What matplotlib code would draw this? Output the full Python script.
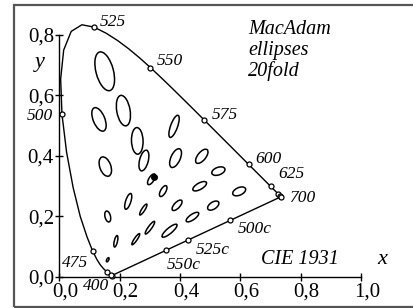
import numpy as np
import matplotlib
matplotlib.use('Agg')
import matplotlib.pyplot as plt
from matplotlib.patches import Ellipse, Rectangle
from matplotlib.transforms import ScaledTranslation

# CIE 1931 spectral locus, 380..700 nm in 5 nm steps
wavelengths = list(range(380, 705, 5))
locus_x = [0.1741, 0.1740, 0.1738, 0.1736, 0.1733, 0.1730, 0.1726, 0.1721, 0.1714, 0.1703,
           0.1689, 0.1669, 0.1644, 0.1611, 0.1566, 0.1510, 0.1440, 0.1355, 0.1241, 0.1096,
           0.0913, 0.0687, 0.0454, 0.0235, 0.0082, 0.0039, 0.0139, 0.0389, 0.0743, 0.1142,
           0.1547, 0.1929, 0.2296, 0.2658, 0.3016, 0.3373, 0.3731, 0.4087, 0.4441, 0.4788,
           0.5125, 0.5448, 0.5752, 0.6029, 0.6270, 0.6482, 0.6658, 0.6801, 0.6915, 0.7006,
           0.7079, 0.7140, 0.7190, 0.7230, 0.7260, 0.7283, 0.7300, 0.7311, 0.7320, 0.7327,
           0.7334, 0.7340, 0.7344, 0.7346, 0.7347]
locus_y = [0.0050, 0.0050, 0.0049, 0.0049, 0.0048, 0.0048, 0.0048, 0.0048, 0.0051, 0.0058,
           0.0069, 0.0086, 0.0109, 0.0138, 0.0177, 0.0227, 0.0297, 0.0399, 0.0578, 0.0868,
           0.1327, 0.2007, 0.2950, 0.4127, 0.5384, 0.6548, 0.7502, 0.8120, 0.8338, 0.8262,
           0.8059, 0.7816, 0.7543, 0.7243, 0.6923, 0.6589, 0.6245, 0.5896, 0.5547, 0.5202,
           0.4866, 0.4544, 0.4242, 0.3965, 0.3725, 0.3514, 0.3340, 0.3197, 0.3083, 0.2993,
           0.2920, 0.2859, 0.2809, 0.2770, 0.2740, 0.2717, 0.2700, 0.2689, 0.2680, 0.2673,
           0.2666, 0.2660, 0.2656, 0.2654, 0.2653]

marked_nm = [400, 425, 450, 475, 500, 525, 550, 575, 600, 625, 650, 675, 700]

# complementary wavelengths on the purple line
compl_names = ['500c', '525c', '550c']
compl_x = [0.566, 0.427, 0.353]
compl_y = [0.187, 0.122, 0.089]

# MacAdam ellipses: centre x, y, semi axes a, b (1e-3), angle (deg)
mac_x = [0.160, 0.187, 0.253, 0.150, 0.131, 0.212, 0.258, 0.152, 0.280, 0.380, 0.160, 0.228, 0.305,
         0.385, 0.472, 0.527, 0.465, 0.510, 0.596, 0.344, 0.390, 0.441, 0.278, 0.300, 0.365]
mac_y = [0.057, 0.118, 0.125, 0.680, 0.521, 0.550, 0.450, 0.365, 0.385, 0.498, 0.200, 0.250, 0.323,
         0.393, 0.399, 0.350, 0.300, 0.236, 0.283, 0.284, 0.237, 0.198, 0.223, 0.163, 0.153]
mac_a = [0.85, 2.2, 2.5, 7.5, 4.7, 5.8, 5.0, 3.8, 4.0, 4.4, 2.1, 3.1, 2.3,
         3.8, 3.2, 2.6, 2.9, 2.4, 2.6, 2.3, 2.5, 2.8, 2.4, 2.9, 3.6]
mac_b = [0.35, 0.55, 0.5, 3.0, 2.0, 2.3, 2.0, 1.9, 1.5, 1.2, 0.95, 0.9, 0.9,
         1.6, 1.4, 1.3, 1.1, 1.2, 1.3, 0.9, 1.0, 0.95, 0.55, 0.6, 0.95]
mac_t = [62.5, 77, 55.5, 105, 112.5, 100, 92, 110, 75.5, 70, 104, 72, 58,
         65.5, 51, 20, 29.5, 33.5, 24, 60, 47, 34.5, 57.5, 54, 40]
scale_a = 8.8e-3
scale_b = 9.6e-3

white_x, white_y = 0.3127, 0.3290

tick_vals = [0.0, 0.2, 0.4, 0.6, 0.8, 1.0]
tick_text = ['0,0', '0,2', '0,4', '0,6', '0,8', '1,0']

serif = 'Liberation Serif'

fig = plt.figure(figsize=(4.13, 3.08), dpi=100)
ax = fig.add_axes([0, 0, 1, 1])
ax.set_xlim(-0.1973, 1.1725)
ax.set_ylim(-0.1025, 0.9157)
ax.patch.set_visible(False)

# frame around the picture
fig.patches.append(Rectangle((14 / 413, 1.5 / 308), 1.2, 301.5 / 308, transform=fig.transFigure,
                             fill=False, ec='#555555', lw=1.6))

# spectral locus + purple line
ax.plot(locus_x, locus_y, color='black', lw=1.0)
ax.plot([locus_x[0], locus_x[-1]], [locus_y[0], locus_y[-1]], color='black', lw=1.0)

mx = [locus_x[wavelengths.index(w)] for w in marked_nm]
my = [locus_y[wavelengths.index(w)] for w in marked_nm]
ax.plot(mx, my, 'o', ms=3.6, mfc='white', mec='black', mew=0.9, zorder=4)
ax.plot(compl_x, compl_y, 'o', ms=3.6, mfc='white', mec='black', mew=0.9, zorder=4)

for i in range(len(mac_x)):
    e = Ellipse((mac_x[i], mac_y[i]), 2 * mac_a[i] * scale_a, 2 * mac_b[i] * scale_b,
                angle=mac_t[i], fill=False, ec='black', lw=1.1)
    ax.add_patch(e)
ax.plot([white_x], [white_y], 'o', ms=4, color='black')

# wavelength labels
lab = dict(fontsize=12.5, family=serif, style='italic', va='center')
ax.text(0.134, 0.843, '525', ha='left', **lab)
ax.text(0.323, 0.714, '550', ha='left', **lab)
ax.text(0.505, 0.536, '575', ha='left', **lab)
ax.text(0.648, 0.390, '600', ha='left', **lab)
ax.text(0.725, 0.340, '625', ha='left', **lab)
ax.text(0.765, 0.260, '700', ha='left', **lab)
ax.text(-0.021, 0.532, '500', ha='right', **lab)
ax.text(0.008, 0.045, '475', ha='left', **lab)
ax.text(0.078, -0.030, '400', ha='left', **lab)
ax.text(0.592, 0.159, compl_names[0], ha='left', **lab)
ax.text(0.452, 0.089, compl_names[1], ha='left', **lab)
ax.text(0.356, 0.038, compl_names[2], ha='left', **lab)

ax.text(0.626, 0.848, 'MacAdam\nellipses\n20fold', fontsize=14.5, family=serif, style='italic',
        ha='left', va='top', linespacing=1.08)
ax.text(0.796, 0.058, 'CIE 1931', fontsize=14.5, family=serif, style='italic', ha='center', va='center')
ax.text(1.07, 0.058, 'x', fontsize=16, family=serif, style='italic', ha='center', va='center')
ax.text(-0.065, 0.71, 'y', fontsize=16, family=serif, style='italic', ha='center', va='center')

# axes
for s in ['top', 'right']:
    ax.spines[s].set_visible(False)
ax.spines['left'].set_position(('data', 0))
ax.spines['bottom'].set_position(('data', 0))
ax.spines['left'].set_bounds(0, 0.8)
ax.spines['bottom'].set_bounds(0, 1.0)
ax.spines['left'].set_linewidth(1.0)
ax.spines['bottom'].set_linewidth(1.0)
ax.set_xticks(tick_vals)
ax.set_xticklabels(tick_text)
ax.set_yticks(tick_vals[:5])
ax.set_yticklabels(tick_text[:5])
ax.tick_params(direction='inout', length=6, width=1.0, labelsize=15, pad=1)
for t in ax.get_xticklabels() + ax.get_yticklabels():
    t.set_family(serif)
off = ScaledTranslation(6 / 100, 0, fig.dpi_scale_trans)
for t in ax.get_xticklabels():
    t.set_transform(t.get_transform() + off)

fig.savefig('out.png', dpi=100)
